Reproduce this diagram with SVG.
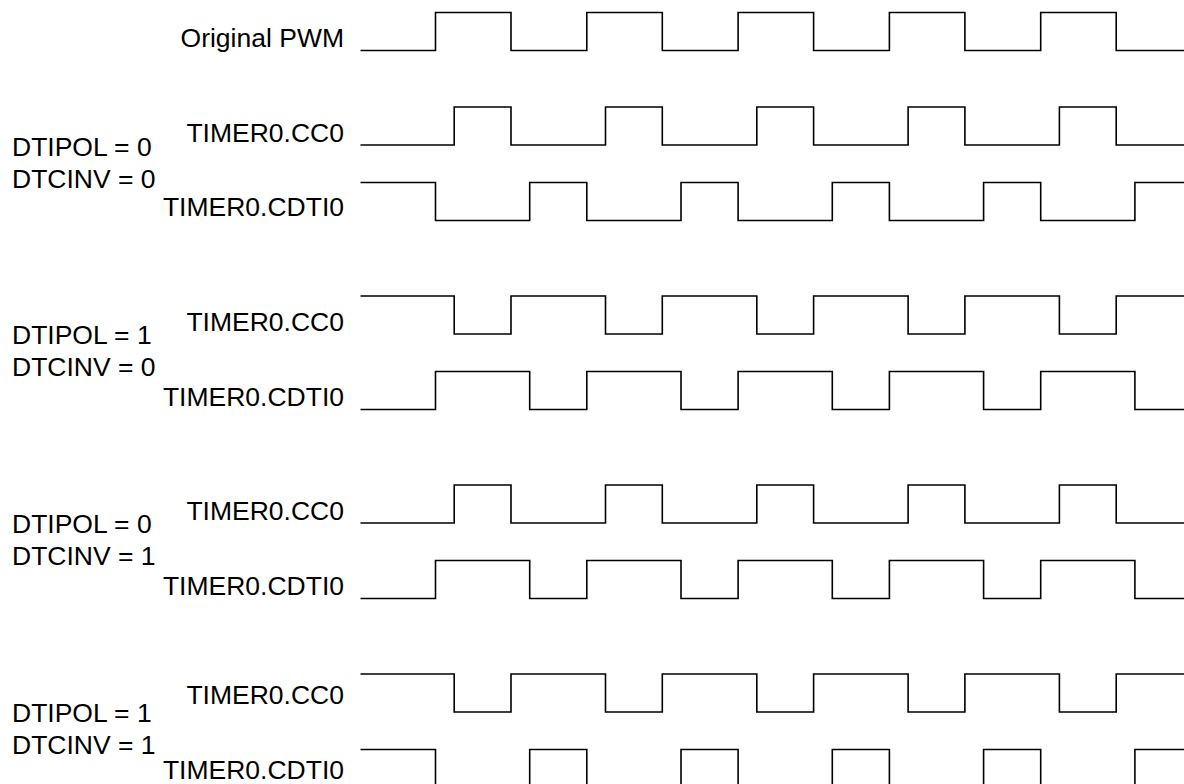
<svg xmlns="http://www.w3.org/2000/svg" width="1184" height="784" viewBox="0 0 1184 784">
  <style>
    .wave { fill: none; stroke: #000; stroke-width: 1.6; stroke-linejoin: miter; stroke-linecap: butt; }
    .lbl { font-family: "Liberation Sans", Arial, sans-serif; font-size: 26.5px; fill: #000; }
    .sig { text-anchor: end; }
  </style>
  <rect x="0" y="0" width="1184" height="784" fill="#fff"/>

  <g id="original-pwm">
    <text class="lbl sig" x="344" y="46.5">Original PWM</text>
    <path class="wave" d="M360.5,50.5 H435.5 V12.5 H511 V50.5 H586.8 V12.5 H662.3 V50.5 H738.1 V12.5 H813.6 V50.5 H889.4 V12.5 H964.9 V50.5 H1040.7 V12.5 H1116.2 V50.5 H1190"/>
  </g>

  <!-- Set 1: DTIPOL = 0, DTCINV = 0 -->
  <g id="set1-config">
    <text class="lbl" x="12" y="156">DTIPOL = 0</text>
    <text class="lbl" x="12" y="187.5">DTCINV = 0</text>
  </g>
  <g id="set1-cc0">
    <text class="lbl sig" x="344" y="142">TIMER0.CC0</text>
    <path class="wave" d="M360.5,145 H454.2 V107 H511 V145 H605.5 V107 H662.3 V145 H756.8 V107 H813.6 V145 H908.1 V107 H964.9 V145 H1059.4 V107 H1116.2 V145 H1190"/>
  </g>
  <g id="set1-cdti0">
    <text class="lbl sig" x="344" y="216">TIMER0.CDTI0</text>
    <path class="wave" d="M360.5,182.5 H435.5 V220.5 H529.7 V182.5 H586.8 V220.5 H681 V182.5 H738.1 V220.5 H832.3 V182.5 H889.4 V220.5 H983.6 V182.5 H1040.7 V220.5 H1134.9 V182.5 H1190"/>
  </g>

  <!-- Set 2: DTIPOL = 1, DTCINV = 0 -->
  <g id="set2-config">
    <text class="lbl" x="12" y="344">DTIPOL = 1</text>
    <text class="lbl" x="12" y="376">DTCINV = 0</text>
  </g>
  <g id="set2-cc0">
    <text class="lbl sig" x="344" y="331">TIMER0.CC0</text>
    <path class="wave" d="M360.5,296 H454.2 V334 H511 V296 H605.5 V334 H662.3 V296 H756.8 V334 H813.6 V296 H908.1 V334 H964.9 V296 H1059.4 V334 H1116.2 V296 H1190"/>
  </g>
  <g id="set2-cdti0">
    <text class="lbl sig" x="344" y="406">TIMER0.CDTI0</text>
    <path class="wave" d="M360.5,409.5 H435.5 V371.5 H529.7 V409.5 H586.8 V371.5 H681 V409.5 H738.1 V371.5 H832.3 V409.5 H889.4 V371.5 H983.6 V409.5 H1040.7 V371.5 H1134.9 V409.5 H1190"/>
  </g>

  <!-- Set 3: DTIPOL = 0, DTCINV = 1 -->
  <g id="set3-config">
    <text class="lbl" x="12" y="533">DTIPOL = 0</text>
    <text class="lbl" x="12" y="565">DTCINV = 1</text>
  </g>
  <g id="set3-cc0">
    <text class="lbl sig" x="344" y="520">TIMER0.CC0</text>
    <path class="wave" d="M360.5,523 H454.2 V485 H511 V523 H605.5 V485 H662.3 V523 H756.8 V485 H813.6 V523 H908.1 V485 H964.9 V523 H1059.4 V485 H1116.2 V523 H1190"/>
  </g>
  <g id="set3-cdti0">
    <text class="lbl sig" x="344" y="595">TIMER0.CDTI0</text>
    <path class="wave" d="M360.5,598.5 H435.5 V560.5 H529.7 V598.5 H586.8 V560.5 H681 V598.5 H738.1 V560.5 H832.3 V598.5 H889.4 V560.5 H983.6 V598.5 H1040.7 V560.5 H1134.9 V598.5 H1190"/>
  </g>

  <!-- Set 4: DTIPOL = 1, DTCINV = 1 -->
  <g id="set4-config">
    <text class="lbl" x="12" y="722">DTIPOL = 1</text>
    <text class="lbl" x="12" y="753.5">DTCINV = 1</text>
  </g>
  <g id="set4-cc0">
    <text class="lbl sig" x="344" y="703.5">TIMER0.CC0</text>
    <path class="wave" d="M360.5,674 H454.2 V712 H511 V674 H605.5 V712 H662.3 V674 H756.8 V712 H813.6 V674 H908.1 V712 H964.9 V674 H1059.4 V712 H1116.2 V674 H1190"/>
  </g>
  <g id="set4-cdti0">
    <text class="lbl sig" x="344" y="778.5">TIMER0.CDTI0</text>
    <path class="wave" d="M360.5,749.5 H435.5 V787.5 H529.7 V749.5 H586.8 V787.5 H681 V749.5 H738.1 V787.5 H832.3 V749.5 H889.4 V787.5 H983.6 V749.5 H1040.7 V787.5 H1134.9 V749.5 H1190"/>
  </g>
</svg>
